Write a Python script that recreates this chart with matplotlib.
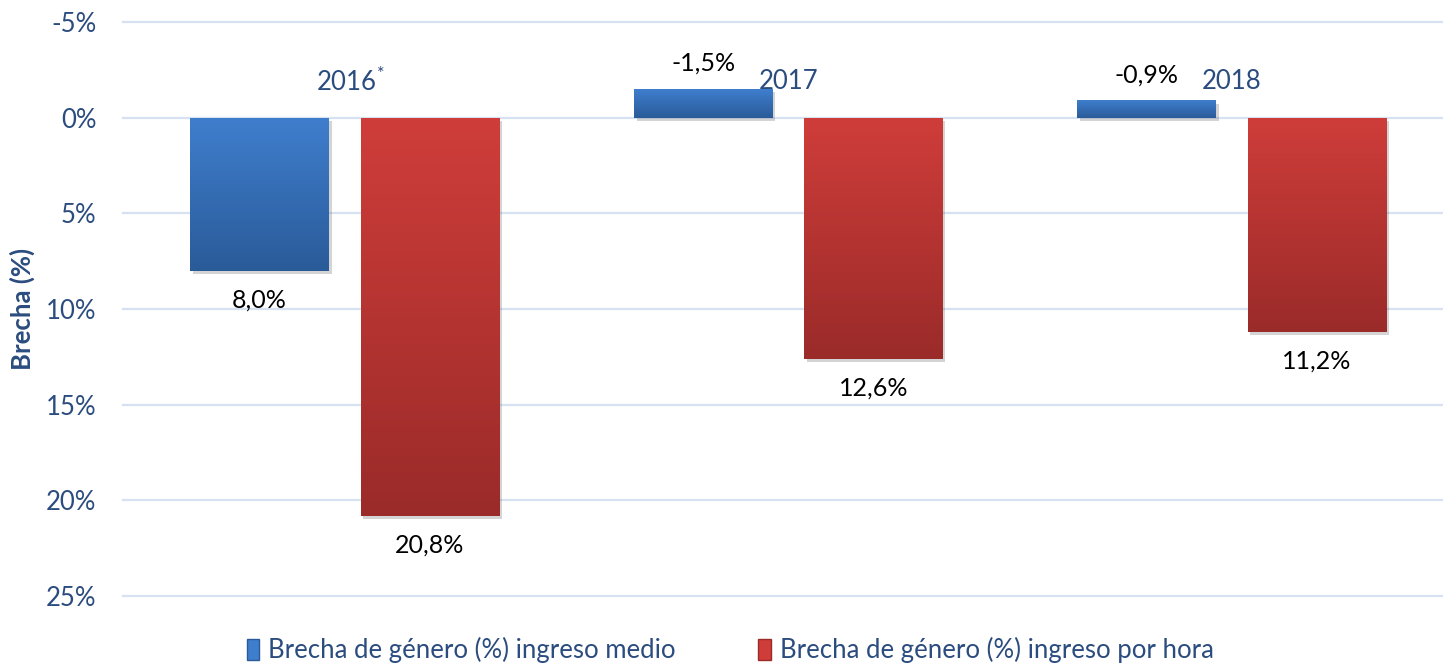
import numpy as np
import matplotlib
matplotlib.use('Agg')
import matplotlib.pyplot as plt
import matplotlib.patheffects as pe
from matplotlib.colors import to_rgb
from matplotlib.patches import Patch

# Brecha de genero por anio
years = ['2016', '2017', '2018']
year_marks = ['*', '', '']
brecha_medio = [8.0, -1.5, -0.9]
brecha_hora = [20.8, 12.6, 11.2]
series_names = ['Brecha de género (%) ingreso medio',
                'Brecha de género (%) ingreso por hora']
y_ticks = [-5, 0, 5, 10, 15, 20, 25]

text_blue = '#2B4C7E'
grid_col = '#D6E2F2'
blue_grad = ('#3F7ECD', '#2A5B99')
red_grad = ('#CF3D3A', '#9A2B29')

plt.rcParams['font.family'] = ['Lato', 'DejaVu Sans']
plt.rcParams['mathtext.fontset'] = 'custom'
plt.rcParams['mathtext.rm'] = 'Lato'

fig = plt.figure(figsize=(14.43, 6.63), dpi=100)
ax = fig.add_axes([123 / 1443, 1 - 596 / 663, 1 - 123 / 1443, (596 - 22) / 663])


def gradient_bars(ax, xs, vals, colors):
    bars = ax.bar(xs, vals, width=0.312, color=colors[1], zorder=2,
                  path_effects=[pe.SimplePatchShadow(offset=(2, -2.5), alpha=0.25,
                                                     shadow_rgbFace='#555555'),
                                pe.Normal()])
    top, bot = np.array(to_rgb(colors[0])), np.array(to_rgb(colors[1]))
    t = np.linspace(0, 1, 128)[:, None, None]
    grad = top * (1 - t) + bot * t
    for b in bars:
        x0, w = b.get_x(), b.get_width()
        y0, h = b.get_y(), b.get_height()
        lo, hi = min(y0, y0 + h), max(y0, y0 + h)
        im = ax.imshow(grad, extent=(x0, x0 + w, hi, lo), origin='upper',
                       aspect='auto', zorder=3, interpolation='bilinear')
        im.set_clip_path(b)
    return bars


x = np.arange(len(years))
off = 0.192
gradient_bars(ax, x - off, brecha_medio, blue_grad)
gradient_bars(ax, x + off, brecha_hora, red_grad)

# value labels
for xi, v in zip(list(x - off) + list(x + off), brecha_medio + brecha_hora):
    txt = f'{v:.1f}%'.replace('.', ',')
    if v >= 0:
        ax.annotate(txt, (xi, v), xytext=(0, -13), textcoords='offset points',
                    ha='center', va='top', fontsize=18, color='black', zorder=5)
    else:
        ax.annotate(txt, (xi, v), xytext=(0, 10), textcoords='offset points',
                    ha='center', va='bottom', fontsize=18, color='black', zorder=5)

# category labels sit above the zero line (asterisk as superscript)
for xi, yr, mk in zip(x, years, year_marks):
    label = yr + (r'$^{\mathrm{' + mk + '}}$' if mk else '')
    shift = 4 if mk else 0
    ax.annotate(label, (xi, -1.9), xytext=(shift, 0), textcoords='offset points',
                ha='center', va='center', fontsize=18.5, color=text_blue, zorder=5)

ax.set_xlim(-0.5, 1320 / 443.5 - 0.5)
ax.set_ylim(25, -5)
ax.set_yticks(y_ticks)
ax.set_yticklabels([f'{t}%' for t in y_ticks], fontsize=18.5, color=text_blue)
ax.set_xticks([])
ax.tick_params(axis='y', length=0, pad=19)
for s in ax.spines.values():
    s.set_visible(False)
ax.grid(axis='y', color=grid_col, linewidth=1.6, zorder=0)
for gl in ax.get_ygridlines():
    gl.set_clip_on(False)
ax.set_axisbelow(True)

fig.text(22 / 1443, 1 - 309 / 663, 'Brecha (%)', rotation=90, ha='center',
         va='center', fontsize=18.5, fontweight='bold', color=text_blue)

handles = [Patch(facecolor=blue_grad[0], edgecolor=blue_grad[1]),
           Patch(facecolor=red_grad[0], edgecolor=red_grad[1])]
fig.legend(handles, series_names, loc='center', bbox_to_anchor=(0.506, 1 - 650 / 663),
           ncol=2, frameon=False, fontsize=18.5, handlelength=0.5, handleheight=0.9,
           handletextpad=0.35, columnspacing=3.2, labelcolor=text_blue)

fig.savefig('out.png', dpi=100)
